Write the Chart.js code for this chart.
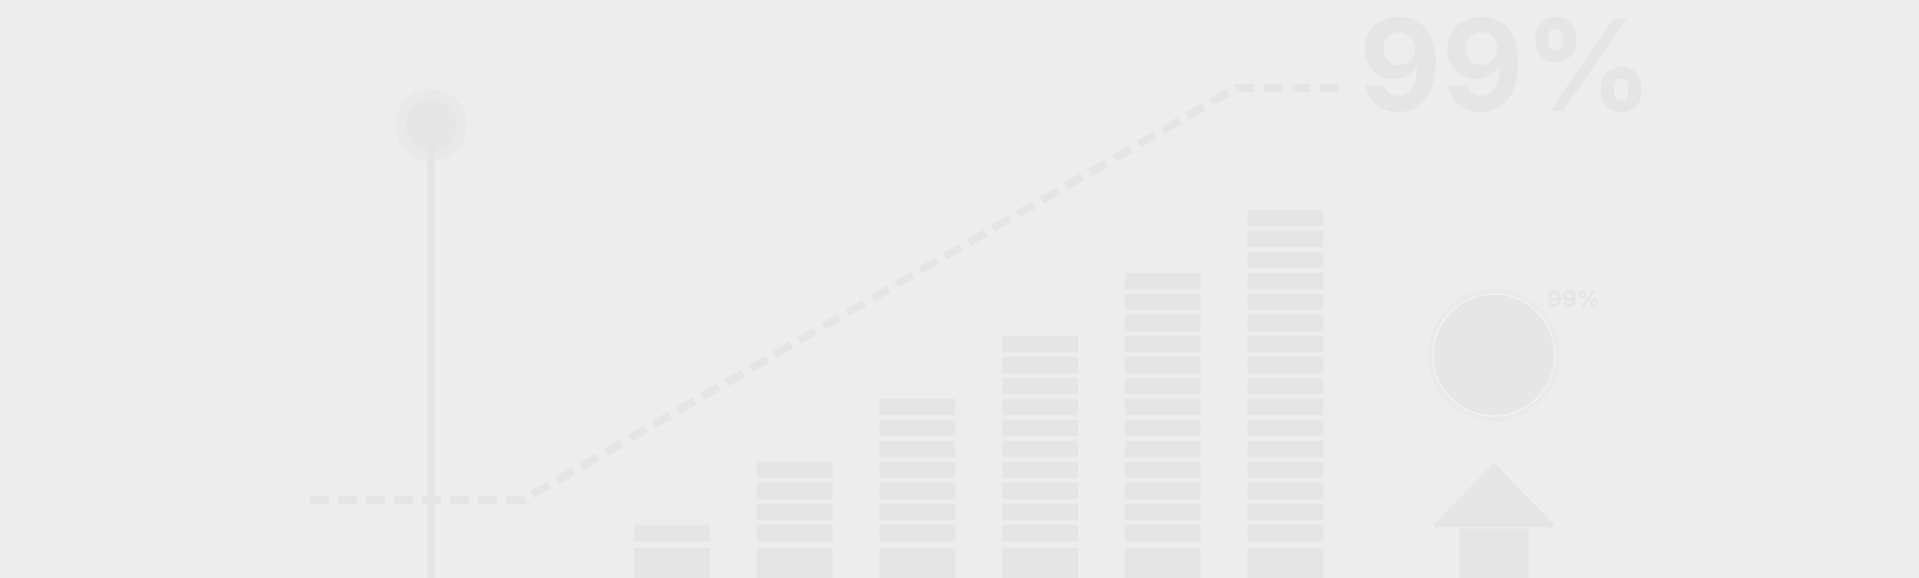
<!DOCTYPE html>
<html>
<head>
<meta charset="utf-8">
<script src="https://cdn.jsdelivr.net/npm/chart.js@4/dist/chart.umd.min.js"></script>
<style>
  html, body { margin: 0; padding: 0; background: #ededed; overflow: hidden; }
  #wrap { position: relative; width: 1919px; height: 578px; }
</style>
</head>
<body>
<div id="wrap"><canvas id="c"></canvas></div>
<script>
// ---------- data (x in bar-index units, y in block units) ----------
const barX = [0, 1, 2, 3, 4, 5];
const segmentCounts = [1, 4, 7, 10, 13, 16];
const baseHeight = 1.733;

const trendX = [-2.95, -1.214, 4.597, 5.485];
const trendY = [3.714, 3.714, 23.333, 23.333];

const pinX = [-1.964];
const pinTop = [21.571];

const ringX = [6.699];
const ringY = [10.619];

const arrowTipY = 5.476;
const arrowNeckY = 2.286;
const arrowHalfWidth = 0.509;

const headline = '99%';
const ringLabel = '99%';

// ---------- styles ----------
const BG = '#ededed';
const MARK = '#e5e5e5';

// ---------- datasets ----------
const datasets = [];

// stacked block bars: base + unit blocks
datasets.push({
  type: 'bar', stack: 'blocks', grouped: false, order: 5,
  data: barX.map(x => ({ x, y: baseHeight })),
  backgroundColor: MARK, borderColor: BG,
  borderWidth: { top: 6.4, bottom: 0, left: 0, right: 0 }, borderSkipped: false,
  barThickness: 76
});
const maxSeg = Math.max(...segmentCounts);
for (let j = 1; j <= maxSeg; j++) {
  datasets.push({
    type: 'bar', stack: 'blocks', grouped: false, order: 5,
    data: barX.map((x, i) => ({ x, y: segmentCounts[i] >= j ? 1 : null })),
    backgroundColor: MARK, borderColor: BG,
    borderWidth: { top: 4.4, bottom: 0, left: 0, right: 0 }, borderSkipped: false,
    barThickness: 76
  });
}

// dashed trend line
datasets.push({
  type: 'line', stack: 'trend', order: 3,
  data: trendX.map((x, i) => ({ x, y: trendY[i] })),
  borderColor: MARK, borderWidth: 8, borderDash: [19, 9], borderCapStyle: 'butt',
  pointRadius: 0, fill: false, tension: 0
});

// lollipop stick
datasets.push({
  type: 'bar', stack: 'pin', grouped: false, order: 1,
  data: pinX.map((x, i) => ({ x, y: [-1, pinTop[i]] })),
  backgroundColor: MARK, borderWidth: 0, barThickness: 7
});
// lollipop head
datasets.push({
  type: 'scatter', stack: 'pinhead', order: 2,
  data: pinX.map((x, i) => ({ x, y: pinTop[i] })),
  pointRadius: 30.75, pointBorderWidth: 10.5,
  pointBackgroundColor: '#e6e6e6', pointBorderColor: '#e9e9e9'
});

// ring / disc
datasets.push({
  type: 'scatter', stack: 'ring1', order: 7,
  data: ringX.map((x, i) => ({ x, y: ringY[i] })),
  pointRadius: 63, pointBorderWidth: 6,
  pointBackgroundColor: '#e6e6e6', pointBorderColor: '#eaeaea'
});
datasets.push({
  type: 'scatter', stack: 'ring2', order: 6,
  data: ringX.map((x, i) => ({ x, y: ringY[i] })),
  pointRadius: 61, pointBorderWidth: 1.5,
  pointBackgroundColor: 'rgba(0,0,0,0)', pointBorderColor: '#f1f1f1'
});

// arrow shaft
datasets.push({
  type: 'bar', stack: 'arrow', grouped: false, order: 4,
  data: ringX.map(x => ({ x, y: [-1, arrowNeckY + 0.05] })),
  backgroundColor: MARK, borderWidth: 0, barThickness: 69
});
// arrow head (filled shape, rounded joins)
datasets.push({
  type: 'line', stack: 'arrowhead', order: 4,
  data: [
    { x: ringX[0] - arrowHalfWidth + 0.03, y: arrowNeckY + 0.14 },
    { x: ringX[0], y: arrowTipY - 0.2 },
    { x: ringX[0] + arrowHalfWidth - 0.03, y: arrowNeckY + 0.14 }
  ],
  borderColor: MARK, backgroundColor: MARK, borderWidth: 6, borderJoinStyle: 'round',
  pointRadius: 0, fill: 'shape', tension: 0
});

// ---------- text plugin ----------
const textPlugin = {
  id: 'texts',
  afterDatasetsDraw(chart) {
    const { ctx, scales: { x, y } } = chart;
    ctx.save();
    ctx.fillStyle = MARK;
    ctx.textAlign = 'left';
    ctx.textBaseline = 'alphabetic';
    ctx.font = '700 127px Inter';
    ctx.fillText(headline,
      x.getPixelForValue(trendX[trendX.length - 1]) + 14,
      y.getPixelForValue(trendY[trendY.length - 1]) + 23);
    ctx.font = '700 23px Inter';
    ctx.fillText(ringLabel,
      x.getPixelForValue(ringX[0]) + 53,
      y.getPixelForValue(ringY[0]) - 48);
    ctx.restore();
  }
};

new Chart(document.getElementById('c'), {
  type: 'bar',
  data: { datasets },
  options: {
    responsive: true,
    maintainAspectRatio: false,
    animation: false,
    events: [],
    layout: { padding: 0, autoPadding: false },
    plugins: { legend: { display: false }, tooltip: { enabled: false }, title: { display: false } },
    scales: {
      x: { type: 'linear', min: -5.477, max: 10.163, offset: false, display: false, grid: { offset: false } },
      y: { type: 'linear', min: 0, max: 27.524, display: false }
    }
  },
  plugins: [textPlugin]
});
</script>
</body>
</html>
